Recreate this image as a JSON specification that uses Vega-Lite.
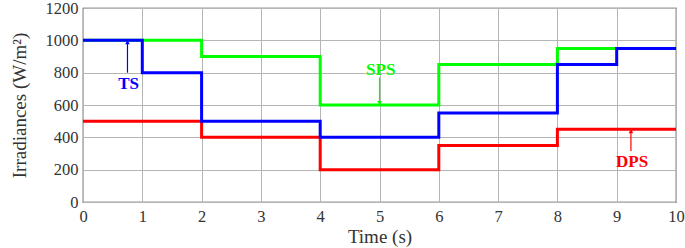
{
  "$schema": "https://vega.github.io/schema/vega-lite/v6.json",
  "width": 593,
  "height": 194,
  "autosize": {"type": "none"},
  "padding": {"left": 83, "top": 8, "right": 9, "bottom": 46},
  "background": "white",
  "config": {
    "view": {"stroke": "#333333", "strokeWidth": 1.2},
    "font": "Liberation Serif",
    "axis": {
      "labelFont": "Liberation Serif",
      "titleFont": "Liberation Serif",
      "labelFontSize": 16.5,
      "titleFontSize": 19,
      "titleFontWeight": "normal",
      "labelColor": "#333333",
      "titleColor": "#333333",
      "gridColor": "#b5b5b5",
      "gridWidth": 1,
      "gridOpacity": 1,
      "domain": false,
      "ticks": false,
      "labelOverlap": false,
      "labelFlush": false,
      "labelBound": false,
      "format": "d"
    }
  },
  "datasets": {
    "lines": [
      {"series": "SPS", "t": 0, "v": 1000},
      {"series": "SPS", "t": 2, "v": 900},
      {"series": "SPS", "t": 4, "v": 600},
      {"series": "SPS", "t": 6, "v": 850},
      {"series": "SPS", "t": 8, "v": 950},
      {"series": "SPS", "t": 10, "v": 950},
      {"series": "DPS", "t": 0, "v": 500},
      {"series": "DPS", "t": 2, "v": 400},
      {"series": "DPS", "t": 4, "v": 200},
      {"series": "DPS", "t": 6, "v": 350},
      {"series": "DPS", "t": 8, "v": 450},
      {"series": "DPS", "t": 10, "v": 450},
      {"series": "TS", "t": 0, "v": 1000},
      {"series": "TS", "t": 1, "v": 800},
      {"series": "TS", "t": 2, "v": 500},
      {"series": "TS", "t": 4, "v": 400},
      {"series": "TS", "t": 6, "v": 550},
      {"series": "TS", "t": 8, "v": 850},
      {"series": "TS", "t": 9, "v": 950},
      {"series": "TS", "t": 10, "v": 950}
    ],
    "notes": [
      {"series": "TS", "label": "TS", "tx": 0.77, "ty": 730, "ax": 0.75, "y1": 800, "y2": 985, "tip": 988, "dir": "triangle-up"},
      {"series": "SPS", "label": "SPS", "tx": 5.02, "ty": 815, "ax": 5.0, "y1": 770, "y2": 615, "tip": 612, "dir": "triangle-down"},
      {"series": "DPS", "label": "DPS", "tx": 9.26, "ty": 250, "ax": 9.24, "y1": 315, "y2": 435, "tip": 438, "dir": "triangle-up"}
    ]
  },
  "layer": [
    {
      "data": {"name": "lines"},
      "mark": {"type": "line", "interpolate": "step-after", "strokeWidth": 3},
      "encoding": {
        "x": {
          "field": "t", "type": "quantitative",
          "scale": {"domain": [0, 10], "nice": false},
          "axis": {"title": "Time (s)", "values": [0,1,2,3,4,5,6,7,8,9,10], "labelPadding": 6, "titlePadding": 3}
        },
        "y": {
          "field": "v", "type": "quantitative",
          "scale": {"domain": [0, 1200], "nice": false},
          "axis": {"title": "Irradiances (W/m²)", "values": [0,200,400,600,800,1000,1200], "tickCount": 7, "labelPadding": 5, "titlePadding": 16}
        },
        "color": {
          "field": "series", "type": "nominal",
          "scale": {"domain": ["SPS", "DPS", "TS"], "range": ["#00ff00", "#ff0000", "#0000ff"]},
          "legend": null
        },
        "order": {"field": "series", "sort": "descending"}
      }
    },
    {
      "data": {"name": "notes"},
      "mark": {"type": "rule", "strokeWidth": 1.2},
      "encoding": {
        "x": {"field": "ax", "type": "quantitative", "axis": {"title": "Time (s)", "values": [0,1,2,3,4,5,6,7,8,9,10], "labelPadding": 6, "titlePadding": 3}},
        "y": {"field": "y1", "type": "quantitative", "axis": {"title": "Irradiances (W/m²)", "values": [0,200,400,600,800,1000,1200], "tickCount": 7, "labelPadding": 5, "titlePadding": 16}},
        "y2": {"field": "y2"},
        "color": {"field": "series", "type": "nominal", "legend": null}
      }
    },
    {
      "data": {"name": "notes"},
      "mark": {"type": "point", "filled": true, "opacity": 1, "size": 22},
      "encoding": {
        "x": {"field": "ax", "type": "quantitative", "axis": {"title": "Time (s)", "values": [0,1,2,3,4,5,6,7,8,9,10], "labelPadding": 6, "titlePadding": 3}},
        "y": {"field": "tip", "type": "quantitative", "axis": {"title": "Irradiances (W/m²)", "values": [0,200,400,600,800,1000,1200], "tickCount": 7, "labelPadding": 5, "titlePadding": 16}},
        "shape": {"field": "dir", "type": "nominal", "scale": {"domain": ["triangle-up", "triangle-down"], "range": ["triangle-up", "triangle-down"]}, "legend": null},
        "color": {"field": "series", "type": "nominal", "legend": null}
      }
    },
    {
      "data": {"name": "notes"},
      "mark": {"type": "text", "fontWeight": "bold", "fontSize": 17, "font": "Liberation Serif", "baseline": "middle", "align": "center"},
      "encoding": {
        "x": {"field": "tx", "type": "quantitative", "axis": {"title": "Time (s)", "values": [0,1,2,3,4,5,6,7,8,9,10], "labelPadding": 6, "titlePadding": 3}},
        "y": {"field": "ty", "type": "quantitative", "axis": {"title": "Irradiances (W/m²)", "values": [0,200,400,600,800,1000,1200], "tickCount": 7, "labelPadding": 5, "titlePadding": 16}},
        "text": {"field": "label"},
        "color": {"field": "series", "type": "nominal", "legend": null}
      }
    }
  ]
}
